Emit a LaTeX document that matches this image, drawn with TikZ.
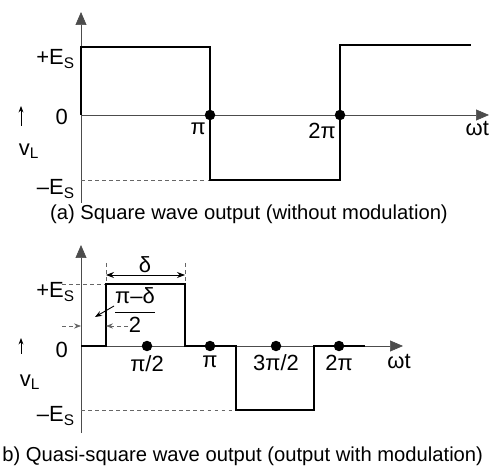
\documentclass[tikz,border=0pt]{standalone}
\usepackage{amsmath}
\usepackage{fontspec}
\setmainfont{Liberation Sans}
\usetikzlibrary{arrows.meta,positioning,calc}

\begin{document}
\begin{tikzpicture}[
  x=0.02cm, y=-0.02cm,
  lbl/.style={inner sep=1pt, font=\fontsize{12.5}{14}\selectfont},
  captext/.style={inner sep=0pt, font=\fontsize{11.5}{13}\selectfont},
  axis/.style={line width=0.4pt, black!70, -{Triangle[length=2.6mm, width=2.2mm]}},
  wave/.style={line width=1.3pt, line join=miter},
  guide/.style={line width=0.4pt, black!60, dash pattern=on 2pt off 2pt},
  dot/.style={circle, fill, inner sep=0pt, minimum size=2.1mm},
  dim/.style={line width=0.5pt, {Stealth[length=1.6mm]}-{Stealth[length=1.6mm]}}
]
\useasboundingbox (0,0) rectangle (490,469);

% (a) Square wave
\coordinate (oa) at (81,115);
\draw[axis] (81,203) -- (81,12);
\draw[axis] (oa) -- (489,115);
\draw[guide] (oa |- 0,180) -- (210,180);
\draw[wave] (oa) |- (210,47) |- (340,180) |- (471,45);
\node[dot] (pia) at (210,115) {};
\node[dot] (twopia) at (340,115) {};

\node[lbl, anchor=east] (esa) at (77,59) {+E\textsubscript{S}};
\node[lbl, anchor=east] (za) at (70,117) {0};
\node[lbl, anchor=east] (mesa) at (77,189) {–E\textsubscript{S}};
\node[lbl, below left=1pt and -1pt of pia] (pila) {π};
\node[lbl, below left=1pt and -1pt of twopia] (twopila) {2π};
\node[lbl, anchor=east] (wta) at (491,129) {ωt};
\node[lbl] (vla) at (29,151) {v\textsubscript{L}};
\coordinate (vla0) at (21,126);
\coordinate (vla1) at (21,106);
\draw[-{Stealth[length=1.3mm]}, line width=0.5pt] (vla0) -- (vla1);
\node[captext] (capa) at (249,214) {(a) Square wave output (without modulation)};

% (b) Quasi-square wave
\coordinate (ob) at (81,346);
\draw[axis] (81,433) -- (81,245);
\draw[axis] (ob) -- (403,346);
\draw[guide] (62,284) -- (106,284);
\draw[guide] (ob |- 0,410) -- (236,410);
\draw[guide] (106,263) -- (106,284);
\draw[guide] (185,263) -- (185,284);
\draw[wave] (ob) -- (106,346) |- (185,284) |- (236,346) |- (314,410) |- (365,346);
\node[dot] (halfpib) at (147,346) {};
\node[dot] (pib) at (210,346) {};
\node[dot] (thpib) at (276,346) {};
\node[dot] (twopib) at (339,346) {};

% delta and (pi-delta)/2 dimensions
\coordinate (dl) at (106,275);
\coordinate (dr) at (185,275);
\draw[dim] (dl) -- (dr);
\node[lbl] (delta) at (145,265) {δ};
\coordinate (gl) at (62,326);
\coordinate (gax) at (81,326);
\coordinate (gp) at (106,326);
\coordinate (gr) at (128,326);
\draw[guide, -{Stealth[length=1.4mm]}] (gl) -- (gax);
\draw[guide, -{Stealth[length=1.4mm]}] (gr) -- (gp);
\node[lbl, inner sep=0pt] (frac) at (135,310) {$\dfrac{\text{π–δ}}{\text{2}}$};
\coordinate (gtip) at (95,317);
\draw[-{Stealth[length=1.4mm]}, line width=0.5pt] (114,306) -- (gtip);

\node[lbl, anchor=east] (esb) at (77,292) {+E\textsubscript{S}};
\node[lbl, anchor=east] (zb) at (70,350) {0};
\node[lbl, anchor=east] (mesb) at (77,416) {–E\textsubscript{S}};
\node[lbl] (halfpil) at (147,364) {π/2};
\node[lbl] (pil) at (210,362) {π};
\node[lbl] (thpil) at (276,363) {3π/2};
\node[lbl] (twopil) at (339,363) {2π};
\node[lbl] (wtb) at (399,362) {ωt};
\node[lbl] (vlb) at (30,382) {v\textsubscript{L}};
\coordinate (vlb0) at (21,354);
\coordinate (vlb1) at (21,338);
\draw[-{Stealth[length=1.3mm]}, line width=0.5pt] (vlb0) -- (vlb1);
\node[captext, anchor=west] (capb) at (2,456) {b) Quasi-square wave output (output with modulation)};

\end{tikzpicture}
\end{document}
